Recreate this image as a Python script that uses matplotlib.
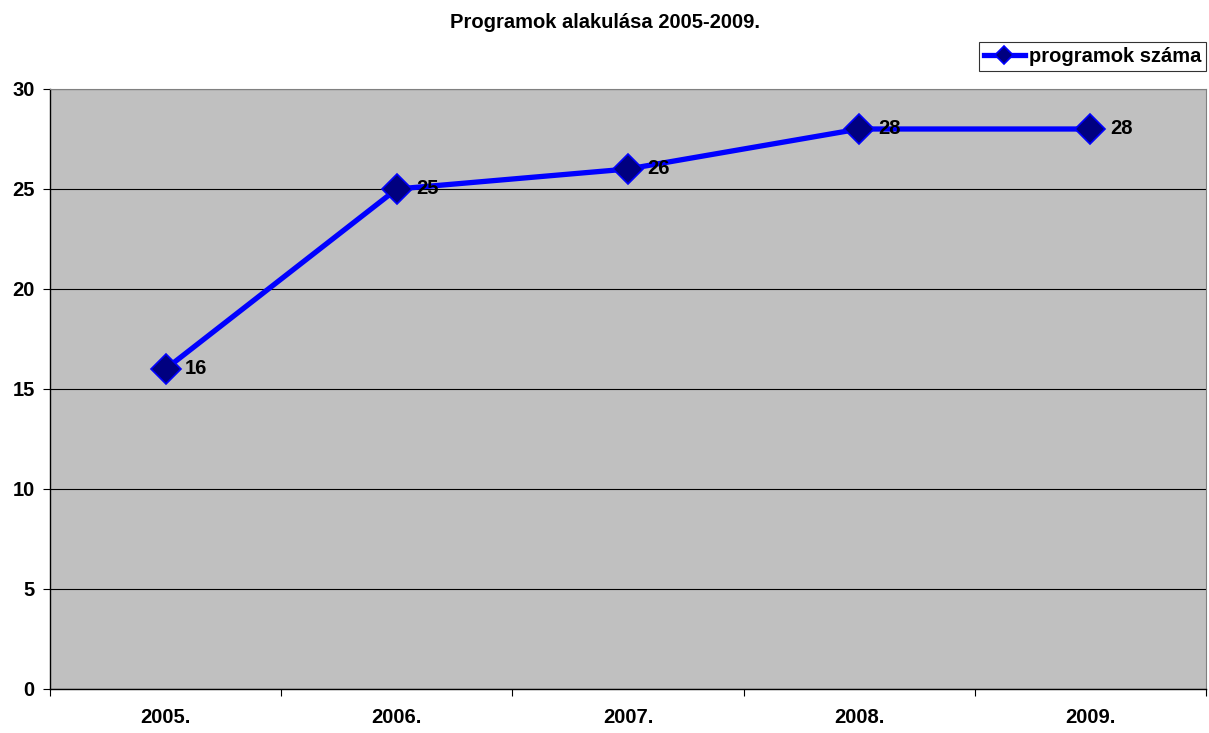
import matplotlib.pyplot as plt

years = ['2005.', '2006.', '2007.', '2008.', '2009.']
programs = [16, 25, 26, 28, 28]

plt.rcParams['font.family'] = ['Liberation Sans', 'DejaVu Sans']
plt.rcParams['font.weight'] = 'bold'

fig = plt.figure(figsize=(12.09, 7.33), dpi=100)
ax = fig.add_axes([50 / 1209, 44 / 733, 1156 / 1209, 600 / 733])
ax.set_facecolor('#C0C0C0')

x = list(range(len(years)))
line, = ax.plot(x, programs, color='#0000FF', lw=3.8, marker='D', markersize=15,
                markerfacecolor='#000080', markeredgecolor='#0000FF', markeredgewidth=1.2,
                label='programok száma', zorder=3)
for xi, v in zip(x, programs):
    ax.annotate(str(v), (xi, v), xytext=(14, 0), textcoords='offset points',
                va='center', ha='left', fontsize=14.5, fontweight='bold')

ax.set_xlim(-0.5, len(years) - 0.5)
ax.set_ylim(0, 30)
ax.set_yticks(range(0, 31, 5))
ax.yaxis.grid(True, color='black', lw=0.8)
ax.set_axisbelow(True)
ax.set_xticks(x)
ax.set_xticklabels(years)
ax.set_xticks([i - 0.5 for i in range(len(years) + 1)], minor=True)
ax.tick_params(axis='x', which='major', length=0, pad=14, labelsize=14.5)
ax.tick_params(axis='x', which='minor', length=5, direction='out', width=0.8)
ax.tick_params(axis='y', length=5, direction='out', width=0.8, labelsize=14.5, pad=6)

for s in ['top', 'right']:
    ax.spines[s].set_color('#808080')
    ax.spines[s].set_linewidth(0.8)
for s in ['left', 'bottom']:
    ax.spines[s].set_color('black')
    ax.spines[s].set_linewidth(1.0)

fig.text(0.5, 1 - 22 / 733, 'Programok alakulása 2005-2009.', ha='center', va='center',
         fontsize=14.5, fontweight='bold')

leg = fig.legend(handles=[line], loc='upper right', bbox_to_anchor=(1206 / 1209, 1 - 42 / 733),
                 fontsize=14.5, frameon=True, fancybox=False, edgecolor='black',
                 borderpad=0.25, handlelength=2.0, handletextpad=0.2, borderaxespad=0)
leg.get_frame().set_linewidth(0.8)
for h in leg.legend_handles:
    h.set_markersize(9)

fig.savefig('out.png', dpi=100)
